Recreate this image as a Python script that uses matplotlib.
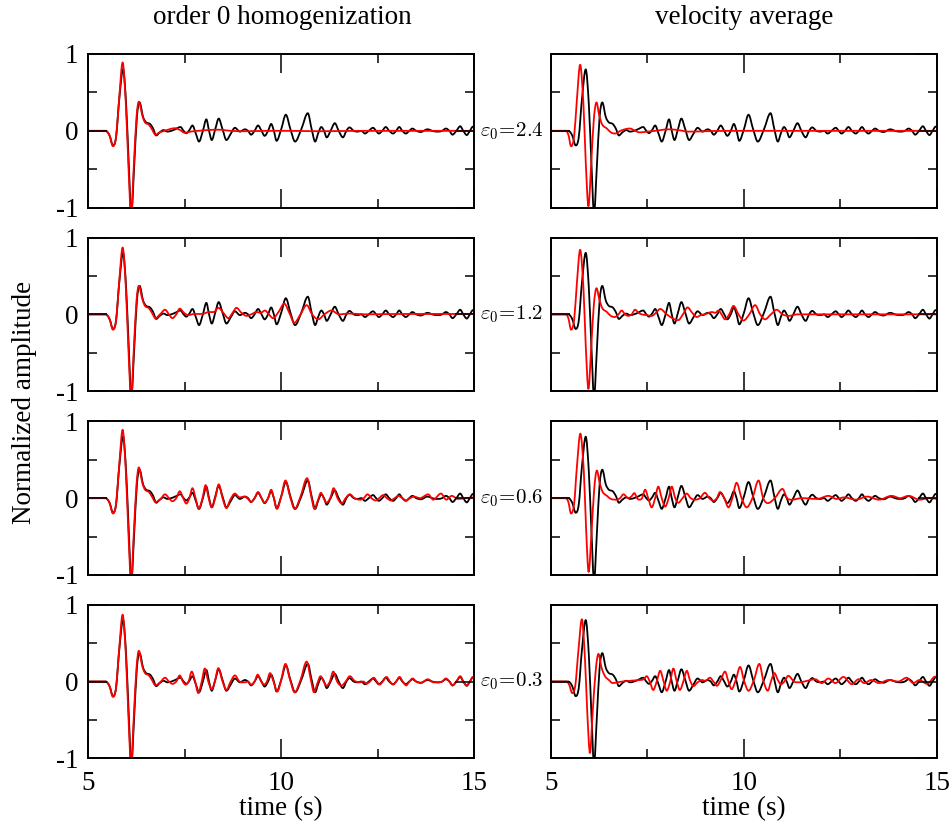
import matplotlib
matplotlib.use("Agg")
import matplotlib.pyplot as plt
from matplotlib.ticker import FixedLocator
from matplotlib.path import Path
from matplotlib.patches import PathPatch

plt.rcParams['font.family'] = ['Liberation Serif', 'DejaVu Serif']
plt.rcParams['mathtext.fontset'] = 'cm'
plt.rcParams['axes.unicode_minus'] = False

# ---------------- data (time s, normalized amplitude) ----------------
column_titles = ["order 0 homogenization", "velocity average"]
eps_labels = ["2.4", "1.2", "0.6", "0.3"]
x_ticks = [5, 10, 15]
y_ticks = [-1, 0, 1]

# reference solution (black), same in every panel
ref_trace = [(5.00, 0.0), (5.45, 0.0), (5.55, -0.06), (5.64, -0.19), (5.72, -0.08), (5.80, 0.40),
             (5.90, 0.80), (5.98, 0.35), (6.05, -0.45), (6.115, -1.08), (6.19, -0.45), (6.26, 0.18),
             (6.33, 0.37), (6.42, 0.18), (6.50, 0.11), (6.60, 0.09), (6.68, 0.03), (6.76, -0.06),
             (6.85, -0.02), (6.95, 0.01), (7.05, -0.01), (7.15, 0.0), (7.25, 0.02), (7.39, 0.05),
             (7.47, 0.0), (7.54, -0.03), (7.62, 0.01), (7.70, 0.07), (7.79, -0.04), (7.87, -0.14),
             (7.97, 0.0), (8.06, 0.15), (8.13, 0.0), (8.20, -0.12), (8.29, 0.02), (8.38, 0.16),
             (8.48, 0.02), (8.58, -0.12), (8.69, -0.04), (8.80, 0.04), (8.93, -0.01), (9.06, 0.02),
             (9.14, 0.0), (9.22, -0.05), (9.31, 0.0), (9.40, 0.07), (9.49, 0.0), (9.57, -0.065),
             (9.66, 0.0), (9.74, 0.09), (9.81, 0.0), (9.88, -0.13), (10.00, 0.02), (10.12, 0.21),
             (10.24, 0.02), (10.36, -0.14), (10.52, 0.02), (10.69, 0.23), (10.79, 0.02), (10.88, -0.14),
             (10.96, -0.03), (11.04, 0.05), (11.11, 0.0), (11.18, -0.085), (11.28, 0.0), (11.39, 0.10),
             (11.49, 0.0), (11.60, -0.085), (11.69, 0.0), (11.77, 0.045), (11.88, 0.0), (11.98, -0.01),
             (12.08, 0.0), (12.17, -0.035), (12.27, 0.0), (12.38, 0.04), (12.46, 0.0), (12.53, -0.035),
             (12.62, 0.0), (12.71, 0.05), (12.80, 0.0), (12.90, -0.035), (12.98, 0.0), (13.06, 0.05),
             (13.14, 0.0), (13.23, -0.035), (13.32, 0.0), (13.40, 0.03), (13.50, 0.0), (13.62, -0.015),
             (13.79, 0.02), (13.95, -0.005), (14.08, -0.01), (14.17, 0.0), (14.27, 0.03), (14.36, 0.0),
             (14.44, -0.05), (14.54, 0.0), (14.64, 0.06), (14.72, 0.0), (14.81, -0.055), (14.89, 0.0),
             (14.97, 0.055), (15.00, 0.05)]

# order 0 homogenization (red, left column), one per epsilon
homog_eps24 = [(5.00, 0.0), (5.45, 0.0), (5.55, -0.06), (5.64, -0.2), (5.72, -0.08), (5.80, 0.42),
               (5.89, 0.89), (5.97, 0.38), (6.04, -0.45), (6.11, -1.1), (6.18, -0.45), (6.25, 0.18),
               (6.31, 0.38), (6.40, 0.2), (6.47, 0.11), (6.57, 0.08), (6.65, 0.02), (6.74, -0.05),
               (6.85, -0.02), (6.97, 0.0), (7.10, 0.02), (7.25, 0.035), (7.38, 0.01), (7.50, -0.025),
               (7.65, -0.01), (7.85, 0.0), (8.10, 0.01), (8.37, 0.015), (8.70, 0.0), (9.10, -0.005),
               (9.60, 0.0), (10.20, 0.0), (11.00, -0.005), (12.00, 0.0), (13.00, 0.0), (14.00, 0.0),
               (15.00, 0.0)]
homog_eps12 = [(5.00, 0.0), (5.45, 0.0), (5.55, -0.06), (5.64, -0.2), (5.72, -0.08), (5.80, 0.42),
               (5.89, 0.87), (5.97, 0.38), (6.04, -0.45), (6.11, -1.1), (6.18, -0.45), (6.25, 0.18),
               (6.31, 0.37), (6.40, 0.2), (6.47, 0.11), (6.57, 0.08), (6.65, 0.02), (6.74, -0.05),
               (6.86, 0.0), (6.99, 0.06), (7.09, 0.0), (7.18, -0.05), (7.28, 0.0), (7.37, 0.075),
               (7.48, 0.02), (7.59, -0.01), (7.75, 0.005), (7.95, 0.005), (8.13, 0.03), (8.25, 0.03),
               (8.37, 0.085), (8.50, 0.02), (8.63, -0.05), (8.74, 0.02), (8.84, 0.085), (8.97, 0.02),
               (9.10, -0.02), (9.22, 0.0), (9.36, 0.03), (9.47, 0.02), (9.58, 0.05), (9.68, 0.0),
               (9.79, -0.05), (9.93, 0.03), (10.08, 0.14), (10.21, 0.02), (10.34, -0.11), (10.50, 0.0),
               (10.66, 0.12), (10.80, 0.0), (10.96, -0.065), (11.12, 0.0), (11.30, 0.05), (11.50, 0.0),
               (11.75, 0.01), (12.20, 0.0), (13.00, 0.005), (14.00, 0.005), (15.00, 0.005)]
homog_eps06 = [(5.00, 0.0), (5.45, 0.0), (5.55, -0.06), (5.64, -0.2), (5.72, -0.08), (5.80, 0.42),
               (5.89, 0.89), (5.97, 0.38), (6.04, -0.45), (6.11, -1.1), (6.18, -0.45), (6.25, 0.18),
               (6.31, 0.40), (6.40, 0.2), (6.47, 0.11), (6.57, 0.08), (6.65, 0.02), (6.74, -0.05),
               (6.86, -0.02), (6.99, 0.05), (7.09, 0.0), (7.18, -0.04), (7.28, 0.0), (7.37, 0.09),
               (7.46, 0.0), (7.54, -0.07), (7.62, 0.0), (7.70, 0.13), (7.78, 0.0), (7.86, -0.14),
               (7.96, 0.0), (8.04, 0.17), (8.12, 0.0), (8.20, -0.12), (8.29, 0.0), (8.38, 0.18),
               (8.48, 0.0), (8.58, -0.13), (8.68, -0.02), (8.80, 0.06), (8.92, 0.01), (9.05, 0.02),
               (9.14, -0.01), (9.22, -0.05), (9.31, 0.0), (9.40, 0.08), (9.49, 0.0), (9.57, -0.06),
               (9.66, 0.0), (9.74, 0.11), (9.81, 0.0), (9.89, -0.14), (10.00, 0.02), (10.11, 0.23),
               (10.23, 0.02), (10.35, -0.14), (10.50, 0.02), (10.67, 0.26), (10.78, 0.02), (10.86, -0.14),
               (10.95, -0.03), (11.03, 0.07), (11.10, 0.0), (11.17, -0.06), (11.27, 0.0), (11.36, 0.13),
               (11.46, 0.0), (11.57, -0.07), (11.67, 0.0), (11.78, 0.05), (11.90, 0.0), (12.04, -0.02),
               (12.14, 0.0), (12.24, 0.05), (12.34, 0.0), (12.44, -0.03), (12.54, 0.0), (12.64, 0.04),
               (12.74, 0.0), (12.84, -0.03), (12.94, 0.0), (13.04, 0.03), (13.14, 0.0), (13.24, -0.03),
               (13.34, 0.0), (13.44, 0.02), (13.60, 0.0), (13.81, 0.05), (13.94, -0.02), (14.14, 0.06),
               (14.28, -0.02), (14.42, 0.03), (14.58, -0.01), (14.78, 0.0), (15.00, 0.01)]
homog_eps03 = [(5.00, 0.0), (5.45, 0.0), (5.55, -0.06), (5.64, -0.2), (5.72, -0.08), (5.80, 0.42),
               (5.89, 0.87), (5.97, 0.38), (6.04, -0.45), (6.11, -1.1), (6.18, -0.45), (6.25, 0.18),
               (6.31, 0.40), (6.40, 0.2), (6.47, 0.11), (6.57, 0.08), (6.65, 0.02), (6.74, -0.05),
               (6.86, -0.01), (6.99, 0.05), (7.09, 0.0), (7.18, -0.03), (7.28, 0.0), (7.37, 0.08),
               (7.45, 0.0), (7.52, -0.04), (7.60, 0.0), (7.68, 0.13), (7.77, 0.0), (7.85, -0.15),
               (7.94, 0.0), (8.02, 0.17), (8.11, 0.0), (8.20, -0.10), (8.28, 0.0), (8.37, 0.175),
               (8.48, 0.0), (8.58, -0.11), (8.69, 0.0), (8.80, 0.08), (8.92, 0.0), (9.05, -0.01),
               (9.14, 0.0), (9.22, -0.04), (9.31, 0.0), (9.39, 0.09), (9.48, 0.0), (9.56, -0.04),
               (9.63, 0.0), (9.71, 0.11), (9.80, 0.0), (9.90, -0.13), (10.00, 0.02), (10.11, 0.23),
               (10.23, 0.02), (10.35, -0.14), (10.50, 0.02), (10.66, 0.26), (10.77, 0.02), (10.85, -0.14),
               (10.94, -0.02), (11.02, 0.07), (11.10, 0.0), (11.18, -0.055), (11.26, 0.0), (11.35, 0.13),
               (11.45, 0.0), (11.56, -0.055), (11.67, 0.0), (11.78, 0.07), (11.90, 0.01), (12.03, -0.01),
               (12.14, 0.0), (12.20, -0.03), (12.30, 0.0), (12.40, 0.05), (12.48, 0.0), (12.55, -0.04),
               (12.63, 0.0), (12.73, 0.06), (12.82, 0.0), (12.90, -0.04), (12.98, 0.0), (13.07, 0.06),
               (13.15, 0.0), (13.24, -0.05), (13.32, 0.0), (13.41, 0.04), (13.50, 0.0), (13.62, -0.02),
               (13.80, 0.03), (13.95, -0.01), (14.08, -0.01), (14.17, 0.0), (14.27, 0.04), (14.36, 0.0),
               (14.44, -0.05), (14.54, 0.0), (14.64, 0.07), (14.72, 0.0), (14.81, -0.05), (14.89, 0.0),
               (14.97, 0.06), (15.00, 0.05)]

# velocity average (red, right column), one per epsilon
vavg_eps24 = [(5.00, 0.0), (5.38, 0.0), (5.45, -0.05), (5.52, -0.2), (5.60, -0.07), (5.67, 0.40),
              (5.755, 0.86), (5.84, 0.35), (5.90, -0.40), (5.97, -0.98), (6.04, -0.45), (6.11, 0.15),
              (6.18, 0.37), (6.25, 0.20), (6.33, 0.08), (6.45, 0.03), (6.55, -0.02), (6.66, -0.035),
              (6.80, 0.0), (6.95, 0.025), (7.05, 0.03), (7.18, 0.0), (7.30, -0.02), (7.50, -0.01),
              (7.70, 0.0), (8.04, 0.02), (8.30, 0.01), (8.56, -0.01), (9.00, -0.005), (9.50, 0.0),
              (10.50, 0.0), (11.50, 0.0), (12.50, 0.0), (13.50, 0.0), (15.00, 0.0)]
vavg_eps12 = [(5.00, 0.0), (5.38, 0.0), (5.45, -0.05), (5.52, -0.2), (5.60, -0.07), (5.67, 0.40),
              (5.755, 0.84), (5.84, 0.35), (5.90, -0.40), (5.97, -0.97), (6.04, -0.45), (6.11, 0.12),
              (6.18, 0.34), (6.25, 0.20), (6.33, 0.08), (6.45, 0.03), (6.55, -0.02), (6.66, -0.035),
              (6.75, 0.0), (6.83, 0.05), (6.92, 0.0), (7.00, -0.02), (7.09, 0.0), (7.18, 0.06),
              (7.27, 0.02), (7.35, 0.0), (7.48, -0.01), (7.61, -0.02), (7.72, 0.02), (7.83, 0.07),
              (8.00, 0.0), (8.18, -0.06), (8.30, -0.075), (8.42, 0.0), (8.54, 0.09), (8.66, 0.02),
              (8.78, -0.035), (8.88, -0.01), (8.99, 0.0), (9.17, 0.03), (9.26, 0.02), (9.34, 0.05),
              (9.42, 0.0), (9.51, -0.065), (9.62, 0.0), (9.73, 0.11), (9.86, 0.0), (9.99, -0.08),
              (10.14, 0.0), (10.29, 0.12), (10.42, 0.0), (10.55, -0.065), (10.70, 0.0), (10.85, 0.06),
              (11.00, 0.0), (11.15, -0.02), (11.40, 0.0), (11.68, 0.0), (12.50, 0.0), (13.50, 0.0),
              (15.00, 0.0)]
vavg_eps06 = [(5.00, 0.0), (5.38, 0.0), (5.45, -0.05), (5.52, -0.2), (5.60, -0.07), (5.67, 0.40),
              (5.76, 0.84), (5.85, 0.35), (5.91, -0.40), (5.975, -0.96), (6.05, -0.45), (6.12, 0.12),
              (6.19, 0.36), (6.26, 0.20), (6.34, 0.08), (6.45, 0.03), (6.55, -0.01), (6.70, -0.02),
              (6.79, 0.0), (6.88, 0.05), (7.00, 0.0), (7.08, 0.02), (7.16, 0.065), (7.23, 0.0),
              (7.29, -0.02), (7.36, 0.0), (7.44, 0.11), (7.52, 0.0), (7.61, -0.12), (7.70, 0.0),
              (7.78, 0.15), (7.87, 0.0), (7.96, -0.11), (8.05, 0.0), (8.13, 0.15), (8.22, 0.0),
              (8.30, -0.06), (8.41, 0.0), (8.52, 0.06), (8.62, 0.0), (8.73, -0.02), (8.86, 0.0),
              (8.99, 0.07), (9.10, 0.0), (9.21, -0.035), (9.30, 0.0), (9.38, 0.08), (9.49, 0.0),
              (9.60, -0.12), (9.70, 0.0), (9.81, 0.20), (9.94, 0.0), (10.07, -0.12), (10.22, 0.0),
              (10.38, 0.23), (10.50, 0.0), (10.62, -0.065), (10.80, 0.0), (11.00, 0.12), (11.12, 0.0),
              (11.24, -0.02), (11.50, 0.0), (11.90, -0.01), (12.19, 0.03), (12.40, -0.01), (12.60, 0.01),
              (12.90, -0.02), (13.20, 0.02), (13.50, -0.02), (13.83, 0.03), (14.05, 0.0), (14.27, 0.03),
              (14.55, -0.02), (14.80, 0.0), (15.00, -0.01)]
vavg_eps03 = [(5.00, 0.0), (5.40, 0.0), (5.47, -0.04), (5.55, -0.15), (5.63, -0.05), (5.71, 0.40),
              (5.80, 0.81), (5.88, 0.30), (5.94, -0.40), (6.01, -0.93), (6.08, -0.40), (6.16, 0.15),
              (6.23, 0.36), (6.31, 0.18), (6.40, 0.07), (6.50, 0.02), (6.60, -0.02), (6.72, -0.01),
              (6.85, 0.0), (7.05, 0.01), (7.30, 0.02), (7.40, 0.03), (7.48, 0.07), (7.56, 0.0),
              (7.65, -0.11), (7.74, 0.0), (7.83, 0.14), (7.92, 0.0), (8.00, -0.12), (8.09, 0.0),
              (8.17, 0.17), (8.26, 0.0), (8.34, -0.11), (8.43, 0.0), (8.52, 0.14), (8.60, 0.02),
              (8.69, -0.06), (8.80, -0.01), (8.91, 0.02), (9.00, 0.01), (9.12, 0.05), (9.21, 0.0),
              (9.30, -0.055), (9.40, 0.02), (9.51, 0.13), (9.60, 0.0), (9.68, -0.10), (9.79, 0.02),
              (9.90, 0.19), (10.01, 0.0), (10.12, -0.12), (10.26, 0.02), (10.40, 0.23), (10.51, 0.0),
              (10.62, -0.12), (10.70, 0.0), (10.79, 0.11), (10.88, 0.02), (10.96, -0.035), (11.05, 0.0),
              (11.15, 0.075), (11.30, 0.0), (11.45, -0.01), (11.60, 0.005), (11.85, 0.03), (12.02, -0.02),
              (12.19, 0.04), (12.37, -0.02), (12.58, 0.06), (12.80, -0.035), (12.97, 0.03), (13.12, -0.02),
              (13.30, 0.02), (13.50, -0.02), (13.75, 0.02), (14.00, 0.0), (14.22, 0.05), (14.39, -0.02),
              (14.55, 0.02), (14.75, -0.03), (14.96, 0.065), (15.00, 0.06)]

homog_traces = [homog_eps24, homog_eps12, homog_eps06, homog_eps03]
vavg_traces = [vavg_eps24, vavg_eps12, vavg_eps06, vavg_eps03]

# ---------------- figure ----------------
W, H = 953, 827
fig = plt.figure(figsize=(W / 100, H / 100), dpi=100)

col_left_px = [88.3, 551.0]
col_w_px = 385.8
row_top_px = [54.0, 237.5, 421.3, 604.7]
row_h_px = 153.7

FS = 19.5


def smooth_trace_path(trace):
    """Path through the read points, drawn with smooth (Hermite/Bezier) segments."""
    xs = [p[0] for p in trace]
    ys = [p[1] for p in trace]
    n = len(xs)
    slopes = []
    for i in range(n):
        if i == 0:
            m = (ys[1] - ys[0]) / (xs[1] - xs[0])
        elif i == n - 1:
            m = (ys[-1] - ys[-2]) / (xs[-1] - xs[-2])
        elif (ys[i] - ys[i - 1]) * (ys[i + 1] - ys[i]) <= 0:
            m = 0.0
        else:
            m = (ys[i + 1] - ys[i - 1]) / (xs[i + 1] - xs[i - 1])
        slopes.append(m)
    verts = [(xs[0], ys[0])]
    codes = [Path.MOVETO]
    for i in range(n - 1):
        h = xs[i + 1] - xs[i]
        verts += [(xs[i] + h / 3, ys[i] + slopes[i] * h / 3),
                  (xs[i + 1] - h / 3, ys[i + 1] - slopes[i + 1] * h / 3),
                  (xs[i + 1], ys[i + 1])]
        codes += [Path.CURVE4] * 3
    return Path(verts, codes)


for r in range(4):
    for c in range(2):
        x0 = col_left_px[c] / W
        y0 = 1 - (row_top_px[r] + row_h_px) / H
        ax = fig.add_axes([x0, y0, col_w_px / W, row_h_px / H])
        ax.add_patch(PathPatch(smooth_trace_path(ref_trace), fill=False,
                               edgecolor='black', lw=1.3, joinstyle='round'))
        red = homog_traces[r] if c == 0 else vavg_traces[r]
        ax.add_patch(PathPatch(smooth_trace_path(red), fill=False,
                               edgecolor='#ff0000', lw=1.3, joinstyle='round'))
        ax.set_xlim(5, 15)
        ax.set_ylim(-1, 1)
        ax.xaxis.set_major_locator(FixedLocator(x_ticks))
        ax.xaxis.set_minor_locator(FixedLocator([7.5, 12.5]))
        ax.yaxis.set_major_locator(FixedLocator(y_ticks))
        ax.yaxis.set_minor_locator(FixedLocator([-0.5, 0.5]))
        ax.tick_params(which='both', direction='in', top=True, right=True, width=1.1,
                       labelsize=FS)
        ax.tick_params(which='major', length=14)
        ax.tick_params(which='minor', length=6.5)
        ax.tick_params(axis='x', pad=9)
        ax.tick_params(axis='y', pad=7)
        for s in ax.spines.values():
            s.set_linewidth(1.4)
        if c == 1:
            ax.set_yticklabels([])
        else:
            ax.set_yticklabels([str(v) for v in y_ticks])
        if r < 3:
            ax.set_xticklabels([])
        else:
            ax.set_xticklabels([str(v) for v in x_ticks])
    # epsilon label between columns at zero line
    yz = 1 - (row_top_px[r] + row_h_px / 2) / H
    fig.text(511.5 / W, yz, r'$\varepsilon_0\!=\!%s$' % eps_labels[r], fontsize=15,
             ha='center', va='center')

fig.text(282 / W, 1 - 18 / H, column_titles[0], fontsize=FS, ha='center', va='center')
fig.text(744 / W, 1 - 18 / H, column_titles[1], fontsize=FS, ha='center', va='center')
fig.text(281 / W, 1 - 809 / H, "time (s)", fontsize=FS, ha='center', va='center')
fig.text(744 / W, 1 - 809 / H, "time (s)", fontsize=FS, ha='center', va='center')
fig.text(25 / W, 1 - 402 / H, "Normalized amplitude", fontsize=FS, rotation=90,
         ha='center', va='center')

fig.savefig("out.png", dpi=100)
